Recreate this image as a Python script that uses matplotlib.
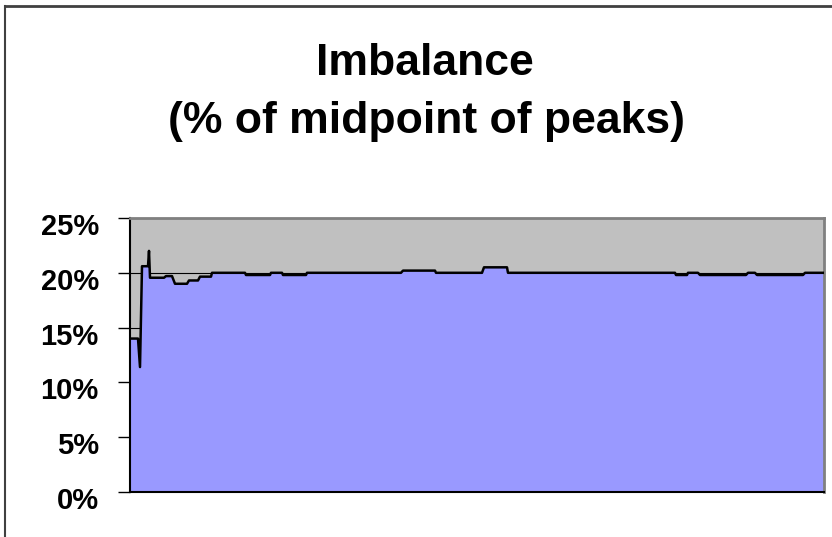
import numpy as np
import matplotlib
matplotlib.use('Agg')
import matplotlib.pyplot as plt
import matplotlib.transforms as mtransforms
from matplotlib.lines import Line2D

plt.rcParams['font.family'] = ['Liberation Sans', 'DejaVu Sans']

# Données : position de l'échantillon et déséquilibre en %
sample = [0, 8, 10, 12, 18, 19, 20, 34, 36, 42, 45, 57, 59, 68, 70, 81, 82,
          115, 116, 140, 141, 152, 153, 176, 177, 271, 273, 305, 306, 352, 354,
          377, 378, 545, 546, 557, 558, 568, 570, 616, 618, 625, 627, 673, 675, 694]
imbalance = [14.0, 14.0, 11.4, 20.6, 20.6, 22.0, 19.55, 19.55, 19.7, 19.7, 19.0, 19.0,
             19.3, 19.3, 19.65, 19.65, 20.0, 20.0, 19.8, 19.8, 20.0, 20.0, 19.8, 19.8,
             20.0, 20.0, 20.2, 20.2, 20.0, 20.0, 20.5, 20.5, 20.0, 20.0, 19.8, 19.8,
             20.0, 20.0, 19.8, 19.8, 20.0, 20.0, 19.8, 19.8, 20.0, 20.0]
yticks = [0, 5, 10, 15, 20, 25]
ytick_labels = ['0%', '5%', '10%', '15%', '20%', '25%']

x = np.array(sample)
y = np.array(imbalance)

fig = plt.figure(figsize=(8.32, 5.37), dpi=100)
ax = fig.add_axes([130 / 832, 45 / 537, 694 / 832, 274 / 537])

ax.set_facecolor('#C0C0C0')
ax.fill_between(x, 0, y, color='#9999FF', zorder=2, linewidth=0)
ax.plot(x, y, color='black', linewidth=1.8, zorder=3)

ax.set_xlim(0, 694)
ax.set_ylim(0, 25)
ax.set_xticks([])
ax.set_yticks(yticks)
ax.set_yticklabels(ytick_labels, fontsize=21, fontweight='bold')
ax.tick_params(axis='y', direction='out', length=8.5, width=1, pad=14)
ax.grid(axis='y', color='black', linewidth=0.8, zorder=1)
ax.set_axisbelow(True)

# Excel place les étiquettes un peu plus bas que les graduations
offset = mtransforms.ScaledTranslation(0, -6 / 100, fig.dpi_scale_trans)
for lab in ax.get_yticklabels():
    lab.set_transform(lab.get_transform() + offset)

ax.spines['left'].set_color('black')
ax.spines['left'].set_linewidth(1.5)
ax.spines['bottom'].set_color('black')
ax.spines['bottom'].set_linewidth(1.5)
ax.spines['top'].set_color('#808080')
ax.spines['top'].set_linewidth(2)
ax.spines['right'].set_color('#808080')
ax.spines['right'].set_linewidth(2)

# Titre sur deux lignes
fig.text(425 / 832, 1 - 75 / 537, 'Imbalance', ha='center', va='baseline',
         fontsize=32, fontweight='bold')
fig.text(427 / 832, 1 - 133 / 537, '(% of midpoint of peaks)', ha='center',
         va='baseline', fontsize=32, fontweight='bold')

# Cadre partiel autour du graphique (haut et gauche)
fig.add_artist(Line2D([5 / 832, 1], [1 - 6 / 537, 1 - 6 / 537],
                      transform=fig.transFigure, color='#404040', linewidth=2))
fig.add_artist(Line2D([5 / 832, 5 / 832], [0, 1 - 6 / 537],
                      transform=fig.transFigure, color='#404040', linewidth=1.5))

plt.savefig('out.png', dpi=100)
